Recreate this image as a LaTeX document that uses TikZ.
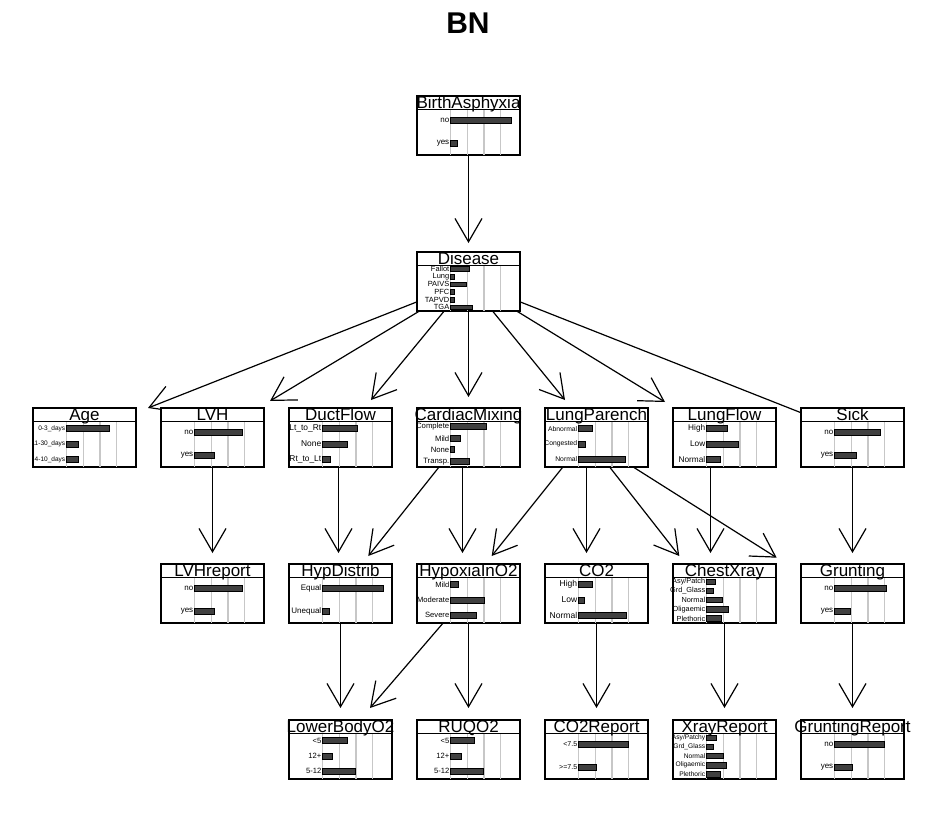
\documentclass[tikz,border=0pt]{standalone}
\usepackage{fontspec}
\setmainfont{Liberation Sans}
\usetikzlibrary{positioning,arrows.meta}
\pgfdeclarelayer{background}
\pgfsetlayers{background,main}

% bar chart of one node: name, title, levels, label size, {prob/label,...}
\newcommand{\bnchart}[5]{%
  \begin{scope}[shift={(#1.north west)}]
    \foreach \g in {0,...,3}
      \draw[gridln] (33.5+16.75*\g,-13) -- (33.5+16.75*\g,-59);
    \draw[hdr] (0,-13) -- (103,-13);
    \pgfmathsetmacro{\dy}{46/#3}
    \pgfmathsetmacro{\bh}{min(6,0.6*\dy)}
    \foreach[count=\i] \p/\lab in {#5} {
      \draw[bar] (33.5,-13-\i*\dy+0.5*\dy-0.5*\bh) rectangle ++(67*\p,\bh);
      \node[lvl, font=\fontsize{#4}{#4}\selectfont] at (32.5,-13-\i*\dy+0.5*\dy) {\lab};
    }
    \node[ttl] at (51.5,-12.5) {#2};
  \end{scope}}

\begin{document}
\begin{tikzpicture}[x=0.75pt, y=0.75pt, node distance={72.75pt and 18.75pt}]
\tikzstyle{cpt}=[rectangle, draw=black, fill=white, line width=0.9pt, minimum width=77.25pt, minimum height=44.25pt, inner sep=0pt, outer sep=0pt]
\tikzstyle{link}=[-{Straight Barb[length=17.5pt, width=20.25pt]}, line width=0.9pt]
\tikzstyle{gridln}=[draw=black!22, line width=1.1pt]
\tikzstyle{hdr}=[draw=black, line width=0.6pt]
\tikzstyle{bar}=[fill=black!75, draw=black, line width=0.4pt]
\tikzstyle{lvl}=[anchor=east, inner sep=0pt]
\tikzstyle{ttl}=[anchor=base, inner sep=0pt, font=\fontsize{12.75}{15}\selectfont]
  \useasboundingbox (0,-824) rectangle (936,0);
  \node[font=\bfseries\fontsize{22.5}{27}\selectfont, anchor=base] (bn) at (468,-34) {BN};
  \node[cpt, anchor=north west] (ba) at (417,-96) {};
  \node[cpt] (dis) [below=of ba] {};
  \node[cpt] (cmix) [below=of dis] {};
  \node[cpt] (duct) [left=of cmix] {};
  \node[cpt] (lvh) [left=of duct] {};
  \node[cpt] (age) [left=of lvh] {};
  \node[cpt] (lpar) [right=of cmix] {};
  \node[cpt] (lflow) [right=of lpar] {};
  \node[cpt] (sick) [right=of lflow] {};
  \node[cpt] (lvhrep) [below=of lvh] {};
  \node[cpt] (hypd) [below=of duct] {};
  \node[cpt] (hypox) [below=of cmix] {};
  \node[cpt] (co2) [below=of lpar] {};
  \node[cpt] (cxr) [below=of lflow] {};
  \node[cpt] (grunt) [below=of sick] {};
  \node[cpt] (lbo2) [below=of hypd] {};
  \node[cpt] (ruq) [below=of hypox] {};
  \node[cpt] (co2rep) [below=of co2] {};
  \node[cpt] (xrep) [below=of cxr] {};
  \node[cpt] (grep) [below=of grunt] {};
  \begin{pgfonlayer}{background}
  \path
        (ba) edge [link] ([shift={(0,9)}]dis.north)
        (dis.center) edge [link] ([shift={(63.5,0)}]age.north)
        (dis.center) edge [link] ([shift={(57.5,7)}]lvh.north)
        (dis.center) edge [link] ([shift={(30.5,8)}]duct.north)
        (dis.center) edge [link] ([shift={(0,11)}]cmix.north)
        (dis.center) edge [link] ([shift={(-31.5,8)}]lpar.north)
        (dis.center) edge [link] ([shift={(-59.5,6)}]lflow.north)
        (dis.center) edge [link] ([shift={(7.5,-28)}]sick.north)
        (lvh.center) edge [link] ([shift={(0,11)}]lvhrep.north)
        ([shift={(-2,0)}]duct.center) edge [link] ([shift={(-2,11)}]hypd.north)
        ([shift={(-6,0)}]cmix.center) edge [link] ([shift={(27.8,8)}]hypd.north)
        ([shift={(-6,0)}]cmix.center) edge [link] ([shift={(-6,11)}]hypox.north)
        ([shift={(-10,0)}]lpar.center) edge [link] ([shift={(23.2,8)}]hypox.north)
        ([shift={(-10,0)}]lpar.center) edge [link] ([shift={(-10,11)}]co2.north)
        ([shift={(-10,0)}]lpar.center) edge [link] ([shift={(-45.2,8)}]cxr.north)
        ([shift={(-10,0)}]lpar.center) edge [link] ([shift={(-75.8,6.3)}]grunt.north)
        ([shift={(-14,0)}]lflow.center) edge [link] ([shift={(-14,11)}]cxr.north)
        (sick.center) edge [link] ([shift={(0,11)}]grunt.north)
        (hypd.center) edge [link] ([shift={(0,12)}]lbo2.north)
        (hypox.center) edge [link] ([shift={(29.5,12)}]lbo2.north)
        (hypox.center) edge [link] ([shift={(0,12)}]ruq.north)
        (co2.center) edge [link] ([shift={(0,12)}]co2rep.north)
        (cxr.center) edge [link] ([shift={(0,12)}]xrep.north)
        (grunt.center) edge [link] ([shift={(0,12)}]grep.north);
  \end{pgfonlayer}
  \bnchart{ba}{BirthAsphyxia}{2}{6}{0.9/no, 0.1/yes}
  \bnchart{dis}{Disease}{6}{5.6}{0.28/Fallot, 0.05/Lung, 0.23/PAIVS, 0.05/PFC, 0.06/TAPVD, 0.33/TGA}
  \bnchart{age}{Age}{3}{4.9}{0.64/0-3\_days, 0.18/11-30\_days, 0.18/4-10\_days}
  \bnchart{lvh}{LVH}{2}{6}{0.71/no, 0.29/yes}
  \bnchart{duct}{DuctFlow}{3}{6.3}{0.52/Lt\_to\_Rt, 0.37/None, 0.11/Rt\_to\_Lt}
  \bnchart{cmix}{CardiacMixing}{4}{5.8}{0.53/Complete, 0.14/Mild, 0.05/None, 0.28/Transp.}
  \bnchart{lpar}{LungParench}{3}{5.1}{0.2/Abnormal, 0.1/Congested, 0.7/Normal}
  \bnchart{lflow}{LungFlow}{3}{6.2}{0.31/High, 0.48/Low, 0.21/Normal}
  \bnchart{sick}{Sick}{2}{6}{0.68/no, 0.32/yes}
  \bnchart{lvhrep}{LVHreport}{2}{6}{0.71/no, 0.29/yes}
  \bnchart{hypd}{HypDistrib}{2}{6}{0.9/Equal, 0.1/Unequal}
  \bnchart{hypox}{HypoxiaInO2}{3}{5.7}{0.11/Mild, 0.51/Moderate, 0.38/Severe}
  \bnchart{co2}{CO2}{3}{6.4}{0.2/High, 0.09/Low, 0.71/Normal}
  \bnchart{cxr}{ChestXray}{5}{5.5}{0.13/{Asy/Patch}, 0.1/Grd\_Glass, 0.23/Normal, 0.32/Oligaemic, 0.22/Plethoric}
  \bnchart{grunt}{Grunting}{2}{6}{0.77/no, 0.23/yes}
  \bnchart{lbo2}{LowerBodyO2}{3}{5.7}{0.37/<5, 0.14/12+, 0.49/5-12}
  \bnchart{ruq}{RUQO2}{3}{5.7}{0.35/<5, 0.16/12+, 0.49/5-12}
  \bnchart{co2rep}{CO2Report}{2}{5.3}{0.74/<7.5, 0.26/>=7.5}
  \bnchart{xrep}{XrayReport}{5}{5}{0.15/{Asy/Patchy}, 0.1/Grd\_Glass, 0.25/Normal, 0.29/Oligaemic, 0.21/Plethoric}
  \bnchart{grep}{GruntingReport}{2}{6}{0.74/no, 0.26/yes}
\end{tikzpicture}
\end{document}
